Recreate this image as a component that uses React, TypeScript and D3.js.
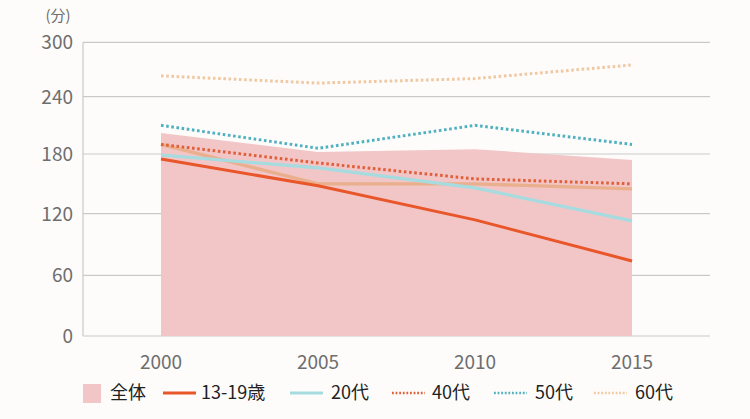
import React from "react";
import * as d3 from "d3";

const years = [2000, 2005, 2010, 2015];
const yTicks = [0, 60, 120, 180, 240, 300];
const total = [202, 182, 185, 174];
const teens = [175, 148, 114, 74];
const s20 = [179, 166, 146, 113];
const s30 = [190, 150, 150, 145];
const s40 = [190, 171, 155, 150];
const s50 = [210, 186, 210, 190];
const s60 = [263, 255, 260, 275];

const W = 750;
const H = 419;
const FONT = "'Noto Sans CJK JP', 'Noto Sans', sans-serif";

const x = d3.scalePoint<number>().domain(years).range([161, 632]);
// piecewise scale to follow the reference's grid spacing
const y = d3
  .scaleLinear()
  .domain(yTicks)
  .range([336, 275.3, 213.7, 154, 96.7, 42.3]);

type Series = {
  name: string;
  values: number[];
  color: string;
  dotted: boolean;
  width: number;
  opacity: number;
  legend: boolean;
};

const series: Series[] = [
  { name: "30代", values: s30, color: "#e9ad86", dotted: false, width: 3.4, opacity: 0.9, legend: false },
  { name: "20代", values: s20, color: "#a6dbdf", dotted: false, width: 3.2, opacity: 1, legend: true },
  { name: "13-19歳", values: teens, color: "#e8562a", dotted: false, width: 3, opacity: 1, legend: true },
  { name: "40代", values: s40, color: "#e0603a", dotted: true, width: 3, opacity: 1, legend: true },
  { name: "50代", values: s50, color: "#4fb1bf", dotted: true, width: 3, opacity: 1, legend: true },
  { name: "60代", values: s60, color: "#f0c8a2", dotted: true, width: 3, opacity: 1, legend: true },
];

const legendOrder = ["13-19歳", "20代", "40代", "50代", "60代"];
const legendPos = [
  { line: 163, text: 201 },
  { line: 290, text: 331 },
  { line: 392, text: 432 },
  { line: 494, text: 535 },
  { line: 594, text: 635 },
];

export default function App() {
  const line = d3
    .line<number>()
    .x((_, i) => x(years[i]) as number)
    .y((d) => y(d));
  const area = d3
    .area<number>()
    .x((_, i) => x(years[i]) as number)
    .y0(y(0))
    .y1((d) => y(d));

  const legendY = 393;

  return (
    <svg
      width={W}
      height={H}
      style={{ position: "absolute", left: 0, top: 0, background: "#fdfcfb" }}
      fontFamily={FONT}
    >
      {/* grid */}
      {yTicks.map((t) => (
        <g key={t}>
          <line x1={83} x2={710} y1={y(t)} y2={y(t)} stroke="#c9c9c9" strokeWidth={1.2} />
          <text x={73} y={y(t)} dy="0.36em" textAnchor="end" fontSize={19} fill="#6e6e6e">
            {t}
          </text>
        </g>
      ))}
      <line x1={83} x2={83} y1={y(300)} y2={y(0)} stroke="#c9c9c9" strokeWidth={1.2} />
      <text x={58} y={16} dy="0.35em" textAnchor="middle" fontSize={15} fill="#6e6e6e">
        (分)
      </text>

      {/* area */}
      <path d={area(total) || ""} fill="#f2c6c7" />

      {/* lines */}
      {series.map((s) => (
        <path
          key={s.name}
          d={line(s.values) || ""}
          fill="none"
          stroke={s.color}
          strokeWidth={s.width}
          strokeOpacity={s.opacity}
          strokeDasharray={s.dotted ? "2.6 2.6" : undefined}
        />
      ))}

      {/* x labels */}
      {years.map((yr) => (
        <text key={yr} x={x(yr)} y={362} dy="0.35em" textAnchor="middle" fontSize={19} fill="#6e6e6e">
          {yr}
        </text>
      ))}

      {/* legend */}
      <rect x={83} y={legendY - 9} width={18} height={19} fill="#f2c6c7" />
      <text x={110} y={legendY} dy="0.36em" fontSize={18} fill="#222">
        全体
      </text>
      {legendOrder.map((name, i) => {
        const s = series.find((d) => d.name === name)!;
        const p = legendPos[i];
        return (
          <g key={name}>
            <line
              x1={p.line}
              x2={p.line + 33}
              y1={legendY}
              y2={legendY}
              stroke={s.color}
              strokeWidth={s.dotted ? 2.4 : s.width}
              strokeDasharray={s.dotted ? "1.8 1.8" : undefined}
            />
            <text x={p.text} y={legendY} dy="0.36em" fontSize={18} fill="#222">
              {name}
            </text>
          </g>
        );
      })}
    </svg>
  );
}
